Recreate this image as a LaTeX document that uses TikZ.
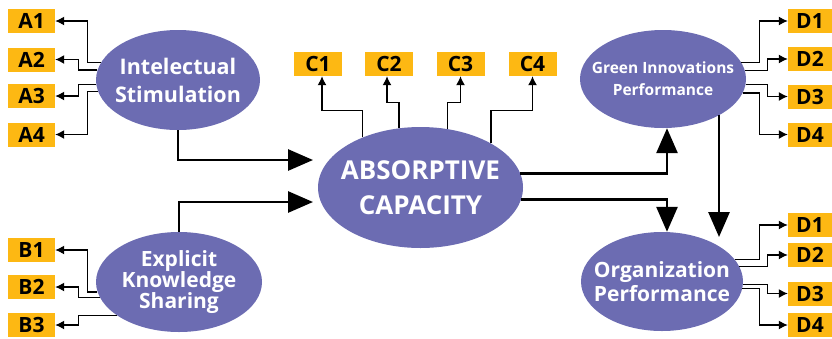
\documentclass[tikz,border=0pt]{standalone}
\usepackage{fontspec}
\setmainfont{Open Sans}
\usetikzlibrary{shapes.geometric,arrows.meta}

\definecolor{factor}{HTML}{6C6CB2}
\definecolor{item}{HTML}{FDB813}

\tikzset{
  construct/.style={ellipse, fill=factor, draw=none, inner sep=0pt},
  ctext/.style={text=white, align=center, inner sep=0pt},
  indicator/.style={fill=item, minimum height=24pt, inner sep=0pt,
    font=\bfseries\fontsize{21}{22}\selectfont},
  awide/.style={indicator, minimum width=47pt},
  anarrow/.style={indicator, minimum width=44pt},
  link/.style={draw=black, line width=1.3pt, -{Latex[length=9pt,width=9pt]}},
  mainlink/.style={draw=black, line width=2.8pt, -{Triangle[length=25pt,width=21pt]}}
}

\begin{document}
\begin{tikzpicture}[x=1pt,y=-1pt]
\useasboundingbox (0,0) rectangle (832,338);

% latent constructs
\node[construct, minimum width=164pt, minimum height=100pt] (is)  at (178,80) {};
\node[construct, minimum width=166pt, minimum height=100pt] (eks) at (179,282) {};
\node[construct, minimum width=205pt, minimum height=121pt] (abs) at (420.5,187.5) {};
\node[construct, minimum width=166pt, minimum height=98pt]  (gip) at (663,79) {};
\node[construct, minimum width=162pt, minimum height=99pt]  (op)  at (662,281.5) {};

\node[ctext, font=\bfseries\fontsize{21.5}{28}\selectfont] (isT) at (is) {Intelectual\\Stimulation};
\node[ctext, font=\bfseries\fontsize{21}{21}\selectfont] (eksT) at (eks) {Explicit\\Knowledge\\Sharing};
\node[ctext, font=\bfseries\fontsize{26}{35}\selectfont] (absT) at (abs) {ABSORPTIVE\\CAPACITY};
\node[ctext, font=\bfseries\fontsize{15.5}{22}\selectfont] (gipT) at (gip) {Green Innovations\\Performance};
\node[ctext, font=\bfseries\fontsize{21}{23.5}\selectfont] (opT) at (op) {Organization\\Performance};

% indicators
\node[awide] (a1) at (31.5,21) {A1};
\node[awide] (a2) at (31.5,59.5) {A2};
\node[awide] (a3) at (31.5,96) {A3};
\node[awide] (a4) at (31.5,134.5) {A4};

\node[awide] (b1) at (31.5,250) {B1};
\node[awide] (b2) at (31.5,287) {B2};
\node[awide] (b3) at (31.5,325) {B3};

\node[indicator, minimum width=48pt] (c1) at (318,64) {C1};
\node[indicator, minimum width=48pt] (c2) at (389,64) {C2};
\node[indicator, minimum width=48pt] (c3) at (460.5,64) {C3};
\node[indicator, minimum width=48pt] (c4) at (532.5,64) {C4};

\node[anarrow] (d1) at (810,21) {D1};
\node[anarrow] (d2) at (810,59) {D2};
\node[anarrow] (d3) at (810,96.5) {D3};
\node[anarrow] (d4) at (810,134.5) {D4};

\node[anarrow] (e1) at (810,225) {D1};
\node[anarrow] (e2) at (810,255) {D2};
\node[anarrow] (e3) at (810,293.5) {D3};
\node[anarrow] (e4) at (810,325) {D4};

% indicator links
\draw[link] (is.167)   -| ([xshift=32pt]a1.east) -- (a1.east);
\draw[link] (is.173)   -| ([xshift=23pt]a2.east) -- (a2.east);
\draw[link] (is.183.5) -| ([xshift=23pt]a3.east) -- (a3.east);
\draw[link] (is.188.6) -| ([xshift=32pt]a4.east) -- (a4.east);

\draw[link] (eks.187)   -| ([xshift=32pt]b1.east) -- (b1.east);
\draw[link] (eks.191.5) -| ([xshift=23pt]b2.east) -- (b2.east);
\draw[link] (eks.208)   -| ([xshift=23pt]b3.east) -- (b3.east);

\draw[link] (abs.139) |- ([xshift=4pt,yshift=-34pt]c1.south) -- ([xshift=4pt]c1.south);
\draw[link] (abs.110) |- ([xshift=-2pt,yshift=-26pt]c2.south) -- ([xshift=-2pt]c2.south);
\draw[link] (abs.65)  |- ([yshift=-26pt]c3.south) -- (c3.south);
\draw[link] (abs.32)  |- ([yshift=-34pt]c4.south) -- (c4.south);

\draw[link] (gip.12.3) -| ([xshift=-28pt]d1.west) -- (d1.west);
\draw[link] (gip.6.9)  -| ([xshift=-20pt]d2.west) -- (d2.west);
\draw[link] (gip.-4.2) -| ([xshift=-20pt]d3.west) -- (d3.west);
\draw[link] (gip.-10)  -| ([xshift=-28pt]d4.west) -- (d4.west);

\draw[link] (op.17.7) -| ([xshift=-28pt]e1.west) -- (e1.west);
\draw[link] (op.11)   -| ([xshift=-20pt]e2.west) -- (e2.west);
\draw[link] (op.-2.1) -| ([xshift=-20pt]e3.west) -- (e3.west);
\draw[link] (op.-5.7) -| ([xshift=-28pt]e4.west) -- (e4.west);

% structural paths
\coordinate (inA) at (313,160);
\coordinate (inB) at (313,202);
\coordinate (opTip) at (718,237);
\draw[mainlink] (is.south) |- (inA);
\draw[mainlink] (eks.north) |- (inB);
\draw[mainlink] (abs.8.3) -| ([xshift=4pt]gip.south);
\draw[mainlink] (abs.-7.1) -| ([xshift=5pt]op.north);
\draw[mainlink] (gip.-33.7) -- (gip.-33.7 |- opTip);
\end{tikzpicture}
\end{document}
